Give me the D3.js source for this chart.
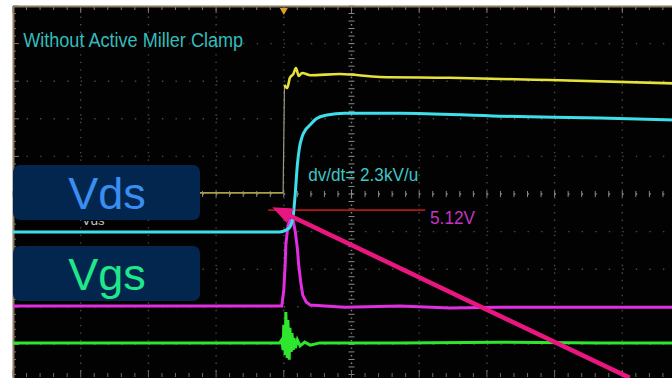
<!DOCTYPE html>
<html>
<head>
<meta charset="utf-8">
<script src="https://cdn.jsdelivr.net/npm/d3@7"></script>
<style>
  body { margin: 0; background: #fff; }
  svg { display: block; font-family: "Liberation Sans", Arial, sans-serif; }
</style>
</head>
<body>
<div class="scope"></div>
<script>
// traces in scope divisions: [time div, volts div]
const yellowLow = [[0, 0.03], [3.99, 0.03]];
const yellowRise = [[3.99, 0.03], [4.01, 2.90]];
const yellowHigh = [[4.01, 2.90], [4.05, 2.82], [4.09, 3.09], [4.14, 3.19], [4.18, 3.35], [4.22, 3.14],
  [4.27, 3.22], [4.39, 3.16], [4.83, 3.19], [5.42, 3.11], [6.45, 3.09], [7.93, 3.03], [10, 2.93]];
const cyanVds = [[0, -1.01], [3.94, -1.01], [4.03, -0.96], [4.09, -0.88], [4.14, -0.56], [4.17, 0.03],
  [4.20, 0.77], [4.23, 1.22], [4.27, 1.52], [4.33, 1.73], [4.39, 1.84], [4.48, 2.0], [4.64, 2.1],
  [4.9, 2.15], [5.72, 2.15], [7.19, 2.07], [8.67, 2.02], [10, 1.96]];
const magentaVgs = [[0, -2.98], [3.97, -2.98], [4.0, -2.55], [4.02, -1.89], [4.03, -1.36], [4.06, -0.85],
  [4.09, -0.69], [4.14, -0.72], [4.17, -1.01], [4.2, -1.44], [4.22, -1.89], [4.25, -2.34], [4.28, -2.69],
  [4.33, -2.87], [4.39, -2.95], [4.9, -3.01], [5.72, -2.98], [6.45, -3.03], [7.19, -3.01], [8.67, -3.01], [10, -3.01]];
const greenTrace = [[0, -3.96], [3.94, -3.96], [3.97, -3.88], [3.99, -4.15], [4.0, -3.48], [4.02, -4.28],
  [4.03, -3.14], [4.05, -4.36], [4.06, -3.35], [4.08, -4.41], [4.09, -3.56], [4.11, -4.2], [4.12, -3.7],
  [4.14, -4.15], [4.15, -3.83], [4.17, -4.1], [4.2, -3.88], [4.24, -4.04], [4.31, -3.94], [4.39, -4.02],
  [4.53, -3.96], [5.72, -3.96], [7.19, -3.94], [8.67, -3.96], [10, -3.96]];
const cursorLine = [[3.77, -0.43], [6.09, -0.43]];
const arrowLine = [[9.11, -4.89], [3.83, -0.35]];

const gridX = [1, 2, 3, 4, 5, 6, 7, 8, 9];
const gridY = [-4, -3, -2, -1, 0, 1, 2, 3, 4];
const labels = [
  { text: "Without Active Miller Clamp", t: 0.15, v: 3.9, color: "#34bcbc", size: 20, len: 220 },
  { text: "dv/dt= 2.3kV/u", t: 4.36, v: 0.35, color: "#3ec6c6", size: 18, len: 110 },
  { text: "5.12V", t: 6.16, v: -0.8, color: "#c334c3", size: 19, len: 45 }
];

const width = 672, height = 378;
const x = d3.scaleLinear().domain([0, 10]).range([13, 690]);
const y = d3.scaleLinear().domain([-5, 5]).range([382, 6]);

const svg = d3.select(".scope").append("svg")
  .attr("width", width).attr("height", height);

const defs = svg.append("defs");
const glow = defs.append("filter").attr("id", "glow")
  .attr("x", "-5%").attr("y", "-5%").attr("width", "110%").attr("height", "110%");
glow.append("feGaussianBlur").attr("stdDeviation", 0.6);
// only the lower edge of the scope's own channel label peeks out under the box
defs.append("clipPath").attr("id", "peek")
  .append("rect").attr("x", 13).attr("y", 221).attr("width", 187).attr("height", 8);

svg.append("rect").attr("width", width).attr("height", height).attr("fill", "#fff");
svg.append("rect")
  .attr("x", x(0)).attr("y", y(5))
  .attr("width", width - x(0)).attr("height", height - y(5))
  .attr("fill", "#020202");

// graticule
let grid = svg.append("g").attr("class", "grid");
gridX.forEach(function (d) {
  grid.append("line")
    .attr("x1", x(d)).attr("x2", x(d)).attr("y1", y(5)).attr("y2", height)
    .attr("stroke", d == 5 ? "#8a8a8a" : "#4a4a4a")
    .attr("stroke-width", 1.4)
    .attr("stroke-dasharray", "1.4," + ((y(0) - y(0.2)) - 1.4))
    .attr("stroke-dashoffset", -((y(0) - y(0.2)) - 1.4) / 2);
});
gridY.forEach(function (d) {
  grid.append("line")
    .attr("x1", x(0)).attr("x2", width).attr("y1", y(d)).attr("y2", y(d))
    .attr("stroke", d == 0 ? "#8a8a8a" : "#4a4a4a")
    .attr("stroke-width", 1.4)
    .attr("stroke-dasharray", "1.4," + ((x(0.2) - x(0)) - 1.4));
});

// minor ticks on center lines and frame
const minorT = d3.range(0, 10.01, 0.2);
const minorV = d3.range(-5, 5.01, 0.2);
grid.selectAll(".ctx").data(minorT).enter().append("line")
  .attr("x1", d => x(d)).attr("x2", d => x(d))
  .attr("y1", y(0) - 3).attr("y2", y(0) + 3)
  .attr("stroke", "#8a8a8a").attr("stroke-width", 1);
grid.selectAll(".cty").data(minorV).enter().append("line")
  .attr("x1", x(5) - 3).attr("x2", x(5) + 3)
  .attr("y1", d => y(d)).attr("y2", d => y(d))
  .attr("stroke", "#8a8a8a").attr("stroke-width", 1);
grid.selectAll(".ttop").data(minorT).enter().append("line")
  .attr("x1", d => x(d)).attr("x2", d => x(d))
  .attr("y1", y(5)).attr("y2", d => y(5) + (Math.abs(d - Math.round(d)) < 0.01 ? 7 : 4))
  .attr("stroke", "#8c7a62").attr("stroke-width", 1);
grid.selectAll(".tbot").data(minorT).enter().append("line")
  .attr("x1", d => x(d)).attr("x2", d => x(d))
  .attr("y1", height - 1).attr("y2", d => height - 1 - (Math.abs(d - Math.round(d)) < 0.01 ? 7 : 4))
  .attr("stroke", "#6a6a6a").attr("stroke-width", 1);
grid.selectAll(".tleft").data(minorV).enter().append("line")
  .attr("x1", x(0)).attr("x2", d => x(0) + (Math.abs(d - Math.round(d)) < 0.01 ? 6 : 3))
  .attr("y1", d => y(d)).attr("y2", d => y(d))
  .attr("stroke", "#8c7a62").attr("stroke-width", 1);
grid.append("line")
  .attr("x1", x(0)).attr("x2", width).attr("y1", y(5) + 0.5).attr("y2", y(5) + 0.5)
  .attr("stroke", "#8c7a62").attr("stroke-width", 2);
grid.append("line")
  .attr("x1", x(0) + 0.5).attr("x2", x(0) + 0.5).attr("y1", y(5)).attr("y2", height)
  .attr("stroke", "#8c7a62").attr("stroke-width", 2);

// trigger marker
svg.append("path")
  .attr("d", "M" + (x(4) - 4) + "," + (y(5) + 2) + "L" + (x(4) + 4) + "," + (y(5) + 2) + "L" + x(4) + "," + (y(5) + 9) + "Z")
  .attr("fill", "#e0a030");

// scope's channel label, mostly hidden under the Vds box
svg.append("text")
  .attr("x", 82).attr("y", 225)
  .attr("font-size", 13).attr("fill", "#c8c8c8")
  .attr("clip-path", "url(#peek)")
  .text("Vds");

// traces
const line = d3.line().x(d => x(d[0])).y(d => y(d[1]));
const smooth = d3.line().x(d => x(d[0])).y(d => y(d[1])).curve(d3.curveMonotoneX);
let traces = svg.append("g").attr("filter", "url(#glow)");

traces.append("path").datum(cursorLine).attr("d", line)
  .attr("fill", "none").attr("stroke", "#b01818").attr("stroke-width", 1.6);
traces.append("path").datum(yellowLow).attr("d", line)
  .attr("fill", "none").attr("stroke", "#a8a048").attr("stroke-width", 1.8);
traces.append("path").datum(yellowRise).attr("d", line)
  .attr("fill", "none").attr("stroke", "#9a9a80").attr("stroke-width", 1.2);
traces.append("path").datum(yellowHigh).attr("d", smooth)
  .attr("fill", "none").attr("stroke", "#e6e23a").attr("stroke-width", 2.6);
traces.append("path").datum(greenTrace).attr("d", line)
  .attr("fill", "none").attr("stroke", "#2ee62e").attr("stroke-width", 3);
traces.append("path").datum(magentaVgs).attr("d", line)
  .attr("fill", "none").attr("stroke", "#e02ee0").attr("stroke-width", 3);
traces.append("path").datum(cyanVds).attr("d", smooth)
  .attr("fill", "none").attr("stroke", "#3ee0ea").attr("stroke-width", 3);

// scope texts
svg.selectAll(".lbl").data(labels).enter().append("text")
  .attr("x", d => x(d.t)).attr("y", d => y(d.v))
  .attr("font-size", d => d.size)
  .attr("textLength", d => d.len)
  .attr("lengthAdjust", "spacingAndGlyphs")
  .attr("fill", d => d.color)
  .text(d => d.text);

// overlay boxes
const boxes = [
  { text: "Vds", top: 165, color: "#3a8ef2" },
  { text: "Vgs", top: 246, color: "#1ee88a" }
];
let boxG = svg.selectAll(".box").data(boxes).enter().append("g");
boxG.append("rect")
  .attr("x", 13).attr("y", d => d.top)
  .attr("width", 187).attr("height", 55).attr("rx", 7)
  .attr("fill", "#03264f");
boxG.append("text")
  .attr("x", 107).attr("y", d => d.top + 44)
  .attr("text-anchor", "middle")
  .attr("font-size", 45)
  .attr("fill", d => d.color)
  .text(d => d.text);

// arrow
const a0 = [x(arrowLine[0][0]), y(arrowLine[0][1])];
const a1 = [x(arrowLine[1][0]), y(arrowLine[1][1])];
const ang = Math.atan2(a1[1] - a0[1], a1[0] - a0[0]);
const headLen = 20, headW = 8;
const bx = a1[0] - headLen * Math.cos(ang), by = a1[1] - headLen * Math.sin(ang);
svg.append("line")
  .attr("x1", a0[0]).attr("y1", a0[1]).attr("x2", bx + 2 * Math.cos(ang)).attr("y2", by + 2 * Math.sin(ang))
  .attr("stroke", "#ea1680").attr("stroke-width", 4.5);
svg.append("path")
  .attr("d", "M" + a1[0] + "," + a1[1] +
    "L" + (bx + headW * Math.sin(ang)) + "," + (by - headW * Math.cos(ang)) +
    "L" + (bx - headW * Math.sin(ang)) + "," + (by + headW * Math.cos(ang)) + "Z")
  .attr("fill", "#ea1680");
</script>
</body>
</html>
